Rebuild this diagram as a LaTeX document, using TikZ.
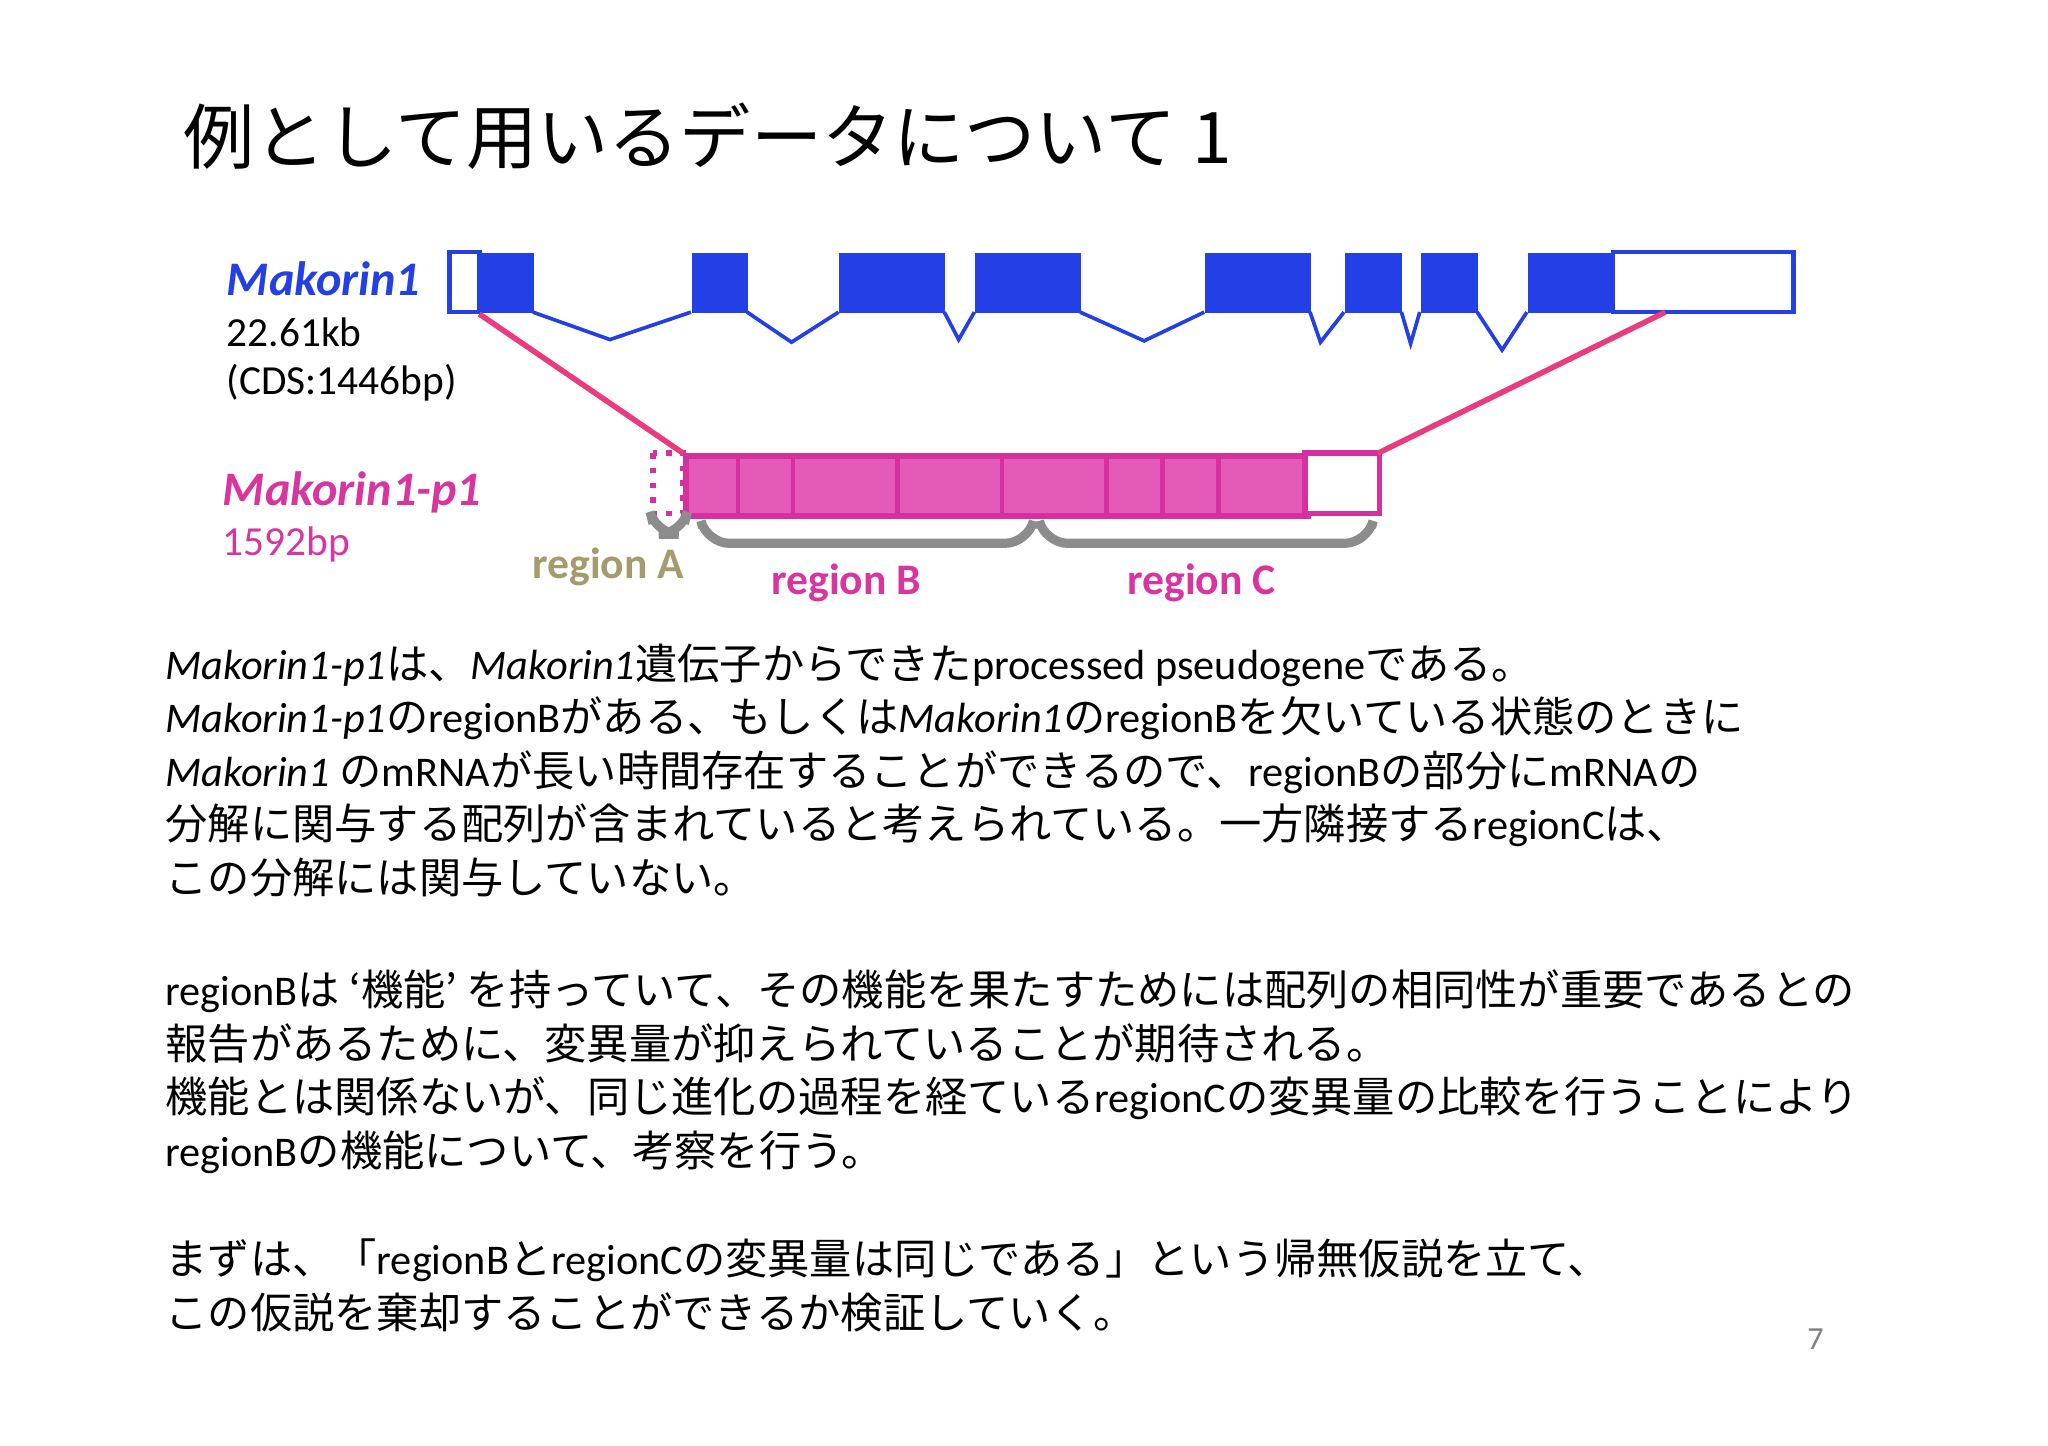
\documentclass[tikz,border=0pt]{standalone}
\usepackage{fontspec}
\setmainfont{Noto Sans CJK JP}
\newfontfamily\lat{Carlito}
\begin{document}
\begin{tikzpicture}[x=0.01cm,y=-0.01cm,
  body/.style={anchor=base west,inner sep=0,font=\fontsize{9.2}{10}\selectfont},
  brc/.style={draw=gray!90,line width=2pt,rounded corners=5}]
\definecolor{gblue}{HTML}{2240E6}
\definecolor{pfill}{HTML}{E35AB8}
\definecolor{pline}{HTML}{D62FA0}
\definecolor{mag}{HTML}{D8359E}
\definecolor{olive}{HTML}{A39C6C}
\definecolor{lpink}{HTML}{EC3A7E}
\useasboundingbox[fill=white] (0,0) rectangle (1568,1107);
\node[anchor=base west,inner sep=0,font=\fontsize{15.5}{18}\selectfont] (title) at (140,125) {例として用いるデータについて 1};
% gene
\draw[gblue,line width=1pt,fill=white] (344,193) rectangle (367,239);
\draw[gblue,line width=1pt,fill=white] (1235,193) rectangle (1373,239);
\foreach \a/\b [count=\i] in {367/408,529/572,642/723,746/827,922/1003,1029/1073,1087/1131,1169/1235}
  \node[fill=gblue,inner sep=0,minimum width={(\b-\a)*0.01cm},minimum height=0.46cm,anchor=north west] (e\i) at (\a,193) {};
\draw[gblue,line width=0.8pt] (408,239)--(467,260)--(529,239) (572,239)--(606,262)--(642,239)
 (723,239)--(734,260)--(746,239) (827,239)--(876,261)--(922,239) (1003,239)--(1011,262)--(1029,239)
 (1073,239)--(1080,263)--(1087,239) (1131,239)--(1150,268)--(1169,239);
% pseudogene
\draw[pline,line width=1.2pt,dotted] (500,347) rectangle (523,393);
\node[fill=pfill,draw=pline,line width=1.2pt,inner sep=0,minimum width=4.76cm,minimum height=0.46cm,anchor=north west] (pg) at (523,347) {};
\draw[pline,line width=1.2pt,fill=white] (999,347) rectangle (1056,393);
\foreach \x in {565,607,687,767,847,890,933} \draw[pline,line width=1pt] (\x,347)--(\x,393);
\draw[lpink,line width=1.2pt] (e1.south west)--(pg.north west);
\coordinate (u) at (1275,239); \coordinate (p) at (1055,347);
\draw[lpink,line width=1.2pt] (u)--(p);
% braces
\draw[brc] (500,401)--(502,409)--(522,409)--(524,401);
\draw[brc] (538,404)--(541,416)--(787,416)--(790,404);
\draw[brc] (797,404)--(800,416)--(1047,416)--(1050,404);
% labels
\node[anchor=base west,inner sep=0,text=gblue,font=\lat\fontsize{10.5}{12}\selectfont\bfseries\itshape] (m1) at (173,226) {Makorin1};
\node[anchor=base west,inner sep=0,font=\lat\fontsize{9}{12}\selectfont] (kb) at (173,265) {22.61kb};
\node[anchor=base west,inner sep=0,font=\lat\fontsize{9}{12}\selectfont] (cds) at (173,302) {(CDS:1446bp)};
\node[anchor=base west,inner sep=0,text=mag,font=\lat\fontsize{10.5}{12}\selectfont\bfseries\itshape] (mp) at (170,387) {Makorin1-p1};
\node[anchor=base west,inner sep=0,text=mag,font=\lat\fontsize{9}{12}\selectfont] (bp) at (170,425) {1592bp};
\node[anchor=base west,inner sep=0,text=olive,font=\lat\fontsize{9.5}{12}\selectfont\bfseries] (ra) at (407,443) {region A};
\node[anchor=base,inner sep=0,text=mag,font=\lat\fontsize{9.5}{12}\selectfont\bfseries] (rb) at (648,455) {region B};
\node[anchor=base,inner sep=0,text=mag,font=\lat\fontsize{9.5}{12}\selectfont\bfseries] (rc) at (920,455) {region C};
% body
\node[body] (t1) at (126,520) {{\lat\itshape Makorin1-p1}は、{\lat\itshape Makorin1}遺伝子からできた{\lat processed pseudogene}である。};
\node[body] (t2) at (126,561) {{\lat\itshape Makorin1-p1}の{\lat regionB}がある、もしくは{\lat\itshape Makorin1}の{\lat regionB}を欠いている状態のときに};
\node[body] (t3) at (126,602) {{\lat\itshape Makorin1} の{\lat mRNA}が長い時間存在することができるので、{\lat regionB}の部分に{\lat mRNA}の};
\node[body] (t4) at (126,643) {分解に関与する配列が含まれていると考えられている。一方隣接する{\lat regionC}は、};
\node[body] (t5) at (126,684) {この分解には関与していない。};
\node[body] (t6) at (126,770) {{\lat regionB}は ‘機能’ を持っていて、その機能を果たすためには配列の相同性が重要であるとの};
\node[body] (t7) at (126,811) {報告があるために、変異量が抑えられていることが期待される。};
\node[body] (t8) at (126,852) {機能とは関係ないが、同じ進化の過程を経ている{\lat regionC}の変異量の比較を行うことにより};
\node[body] (t9) at (126,893) {{\lat regionB}の機能について、考察を行う。};
\node[body] (t10) at (126,976) {まずは、「{\lat regionB}と{\lat regionC}の変異量は同じである」という帰無仮説を立て、};
\node[body] (t11) at (126,1017) {この仮説を棄却することができるか検証していく。};
\node[anchor=base,inner sep=0,text=gray,font=\lat\fontsize{7}{8}\selectfont] (pn) at (1390,1033) {7};
\end{tikzpicture}
\end{document}
